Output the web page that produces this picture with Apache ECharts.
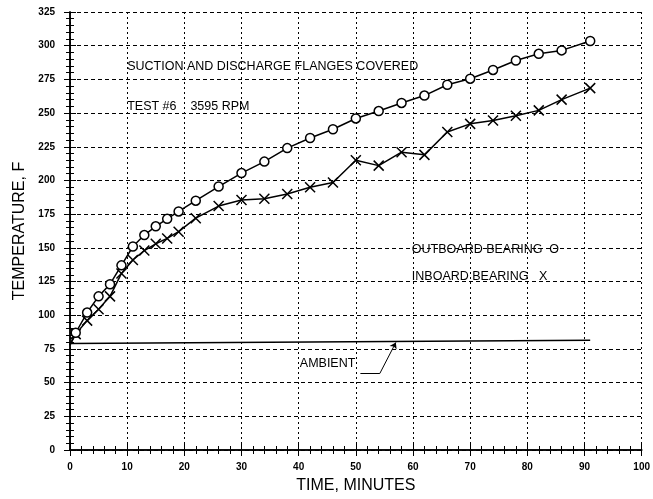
<!DOCTYPE html>
<html><head><meta charset="utf-8">
<script src="https://cdn.jsdelivr.net/npm/echarts@6/dist/echarts.min.js"></script>
<style>html,body{margin:0;padding:0;background:#fff}#c{width:653px;height:499px}</style>
</head><body><div id="c"></div>
<script>
// Time in minutes
const times = [0, 1, 3, 5, 7, 9, 11, 13, 15, 17, 19, 22, 26, 30, 34, 38, 42, 46, 50, 54, 58, 62, 66, 70, 74, 78, 82, 86, 91];
// Outboard bearing temperature (F) - circles
const outboard = [78, 87, 102, 114, 123, 137, 151, 159.5, 166, 171.5, 177, 185, 195.5, 205.5, 214, 224, 231.5, 238, 246, 251.5, 257.5, 263, 271, 275.5, 282, 289, 294, 296.5, 303.5];
// Inboard bearing temperature (F) - X marks
const inboard = [78, 86, 96, 104.5, 114, 131, 141, 148, 153, 157, 162, 172, 181, 185.5, 186.5, 190, 195, 198.5, 215, 211, 221, 219, 236, 242, 244.5, 248, 252, 260, 268.5];
// Ambient temperature
const ambientTimes = [0, 91];
const ambient = [79, 81.5];
// Axis ranges
const xMin = 0, xMax = 100, xStep = 10;
const yMin = 0, yMax = 325, yStep = 25;
// Annotations (data coordinates)
const noteTexts = ['SUCTION AND DISCHARGE FLANGES COVERED', 'TEST #6    3595 RPM', 'OUTBOARD BEARING  O', 'INBOARD BEARING   X', 'AMBIENT'];
const noteX = [10, 10, 59.8, 59.8, 40.2];
const noteY = [284.5, 254.5, 148.5, 129, 64.5];
const leaderX = [50.8, 54.2, 57];
const leaderY = [56.8, 56.8, 79.8];

const FONT = '"Liberation Sans", Arial, sans-serif';
const NARROW = '"Liberation Sans Narrow", "Arial Narrow", "Liberation Sans", Arial, sans-serif';
const chart = echarts.init(document.getElementById('c'));
const xPath = 'path://M0,0L10,10M10,0L0,10';

const baseAxisLine = {show: true, lineStyle: {color: '#000', width: 1.5}};
chart.setOption({
  animation: false,
  backgroundColor: '#fff',
  grid: {left: 70, right: 11, top: 12, bottom: 47},
  xAxis: [{
    type: 'value', min: xMin, max: xMax, interval: xStep, position: 'bottom',
    name: 'TIME, MINUTES', nameLocation: 'middle', nameGap: 28,
    nameTextStyle: {fontFamily: FONT, fontSize: 16, color: '#000'},
    axisLine: baseAxisLine,
    axisTick: {show: true, inside: true, length: 6, lineStyle: {color: '#000', width: 1}},
    minorTick: {show: true, splitNumber: 5, length: 4, lineStyle: {color: '#000', width: 1}},
    axisLabel: {fontFamily: NARROW, fontSize: 10, fontWeight: 'bold', color: '#000', margin: 12},
    splitLine: {show: true, lineStyle: {color: '#000', type: [2, 3], width: 1}}
  }, {
    type: 'value', min: xMin, max: xMax, interval: xStep, position: 'top',
    axisLine: baseAxisLine,
    axisTick: {show: true, inside: true, length: 6, lineStyle: {color: '#000'}},
    minorTick: {show: true, splitNumber: 5, length: 4, lineStyle: {color: '#000'}},
    axisLabel: {show: false}, splitLine: {show: false}
  }],
  yAxis: [{
    type: 'value', min: yMin, max: yMax, interval: yStep, position: 'left',
    name: 'TEMPERATURE, F', nameLocation: 'middle', nameGap: 40,
    nameTextStyle: {fontFamily: FONT, fontSize: 16, color: '#000'},
    axisLine: baseAxisLine,
    axisTick: {show: true, inside: true, length: 6, lineStyle: {color: '#000'}},
    minorTick: {show: true, splitNumber: 5, length: 4, lineStyle: {color: '#000'}},
    axisLabel: {fontFamily: NARROW, fontSize: 10, fontWeight: 'bold', color: '#000', margin: 15},
    splitLine: {show: true, lineStyle: {color: '#000', type: [4, 3], width: 1}}
  }, {
    type: 'value', min: yMin, max: yMax, interval: yStep, position: 'right',
    axisLine: baseAxisLine,
    axisTick: {show: true, inside: true, length: 6, lineStyle: {color: '#000'}},
    minorTick: {show: true, splitNumber: 5, length: 4, lineStyle: {color: '#000'}},
    axisLabel: {show: false}, splitLine: {show: false}
  }],
  series: [{
    name: 'Outboard', type: 'line', xAxisIndex: 0, yAxisIndex: 0,
    data: times.map((t, i) => i === 0 ? {value: [t, outboard[i]], symbol: 'none'} : [t, outboard[i]]),
    symbol: 'circle', symbolSize: 9,
    itemStyle: {color: '#fff', borderColor: '#000', borderWidth: 1.5},
    lineStyle: {color: '#000', width: 1.5}, z: 5
  }, {
    name: 'Inboard', type: 'line', xAxisIndex: 0, yAxisIndex: 0,
    data: times.map((t, i) => i === 0 ? {value: [t, inboard[i]], symbol: 'none'} : [t, inboard[i]]),
    symbol: xPath, symbolSize: 10,
    itemStyle: {color: '#000', borderColor: '#000', borderWidth: 1.5},
    lineStyle: {color: '#000', width: 1.5}, z: 4
  }, {
    name: 'Ambient', type: 'line', xAxisIndex: 0, yAxisIndex: 0,
    data: ambientTimes.map((t, i) => [t, ambient[i]]),
    symbol: 'none', lineStyle: {color: '#000', width: 1.5}, z: 3,
    markLine: {
      silent: true, animation: false, label: {show: false},
      lineStyle: {color: '#000', width: 1, type: 'solid'},
      symbol: ['none', 'none'],
      data: [
        [{coord: [leaderX[0], leaderY[0]], symbol: 'none'}, {coord: [leaderX[1], leaderY[1]], symbol: 'none'}],
        [{coord: [leaderX[1], leaderY[1]], symbol: 'none'}, {coord: [leaderX[2], leaderY[2]], symbol: 'arrow', symbolSize: 6}]
      ]
    }
  }]
});

const graphics = noteTexts.map((t, i) => {
  const p = chart.convertToPixel({xAxisIndex: 0, yAxisIndex: 0}, [noteX[i], noteY[i]]);
  return {type: 'text', x: p[0], y: p[1], z: 10,
    style: {text: t, fill: '#000', font: '12.5px ' + FONT, textVerticalAlign: 'middle', verticalAlign: 'middle', textAlign: 'left', align: 'left'}};
});
chart.setOption({graphic: graphics});
</script></body></html>
